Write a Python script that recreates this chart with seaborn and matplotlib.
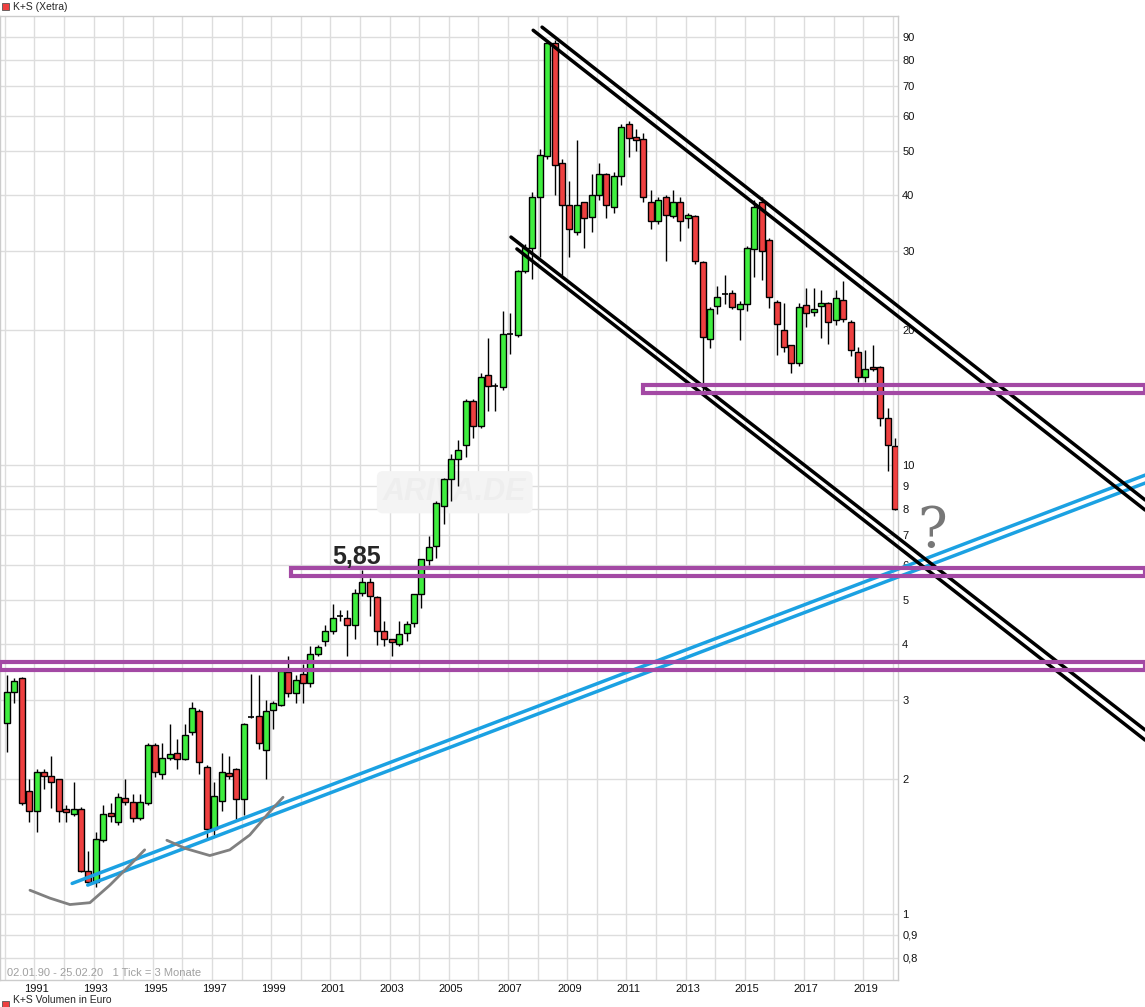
import numpy as np
import pandas as pd
import matplotlib
matplotlib.use("Agg")
import matplotlib.pyplot as plt
import seaborn as sns
from matplotlib.patches import Rectangle

# quarterly candles, 1990 Q1 .. 2020 Q1
opens = [2.67, 3.12, 3.35, 1.88, 1.70, 2.07, 2.03, 2.00, 1.71, 1.67, 1.71, 1.25, 1.18, 1.46, 1.68, 1.60,
         1.81, 1.78, 1.64, 1.77, 2.38, 2.05, 2.23, 2.28, 2.22, 2.54, 2.83, 2.13, 1.55, 1.79, 2.06, 2.10,
         1.80, 2.75, 2.76, 2.32, 2.85, 2.92, 3.46, 3.10, 3.42, 3.27, 3.80, 4.05, 4.27, 4.60, 4.56, 4.40,
         5.18, 5.48, 5.08, 4.27, 4.10, 4.00, 4.22, 4.45, 5.15, 6.15, 6.60, 8.10, 9.30, 10.3, 11.1, 13.9,
         12.2, 15.9, 15.0, 14.9, 19.6, 19.5, 27.0, 30.5, 39.5, 48.8, 87.0, 47.0, 38.0, 33.0, 38.5, 35.7,
         40.0, 44.5, 37.5, 44.0, 57.5, 53.7, 53.2, 38.5, 35.0, 39.5, 35.8, 38.5, 35.5, 35.8, 28.3, 19.1,
         22.6, 24.0, 24.2, 22.3, 22.9, 30.3, 38.5, 31.8, 23.1, 20.0, 18.5, 16.9, 22.7, 21.9, 22.6, 23.0,
         21.0, 23.3, 20.8, 17.9, 15.7, 16.5, 16.5, 12.7, 11.05]
highs = [3.40, 3.35, 3.38, 2.00, 2.10, 2.10, 2.25, 2.00, 1.75, 1.97, 1.73, 1.38, 1.52, 1.75, 1.77, 1.86,
         2.00, 1.85, 1.85, 2.40, 2.40, 2.40, 2.65, 2.45, 2.65, 2.97, 2.86, 2.15, 1.97, 2.28, 2.25, 2.12,
         2.67, 3.43, 3.40, 3.00, 2.98, 3.50, 3.75, 3.40, 3.60, 3.95, 3.97, 4.40, 4.90, 4.75, 4.75, 5.30,
         5.85, 5.60, 5.10, 4.50, 4.10, 4.50, 4.50, 5.15, 6.17, 6.95, 8.30, 9.35, 10.6, 11.4, 14.0, 14.0,
         16.0, 19.2, 15.2, 22.0, 21.8, 27.2, 31.0, 40.5, 50.5, 88.0, 88.5, 48.0, 43.0, 53.0, 38.6, 44.5,
         47.0, 44.8, 45.0, 57.5, 58.5, 56.0, 55.0, 41.0, 39.5, 40.0, 41.0, 39.5, 36.5, 36.0, 28.5, 22.5,
         25.0, 26.5, 24.5, 23.2, 30.8, 39.0, 39.5, 32.0, 23.3, 23.0, 18.5, 23.0, 24.8, 24.8, 24.6, 23.1,
         24.5, 25.7, 21.0, 18.3, 18.0, 18.5, 16.6, 13.4, 11.5]
lows = [2.30, 2.95, 1.75, 1.60, 1.52, 1.90, 1.72, 1.60, 1.60, 1.65, 1.24, 1.16, 1.15, 1.45, 1.60, 1.58,
        1.75, 1.60, 1.62, 1.75, 2.02, 2.00, 2.20, 2.10, 2.20, 2.50, 2.05, 1.48, 1.50, 1.70, 2.00, 1.63,
        1.66, 2.74, 2.33, 2.00, 2.58, 2.90, 3.05, 2.95, 2.95, 3.20, 3.75, 3.95, 4.20, 4.50, 3.75, 4.10,
        5.10, 4.60, 3.97, 3.95, 3.75, 3.95, 4.05, 4.35, 4.80, 6.00, 6.20, 7.40, 8.30, 9.00, 10.4, 11.5,
        12.1, 13.2, 13.2, 14.7, 17.7, 19.3, 26.8, 26.0, 29.0, 48.0, 40.0, 26.5, 29.0, 32.5, 30.5, 33.0,
        39.0, 35.5, 36.5, 42.0, 48.5, 50.0, 38.5, 33.5, 34.5, 28.5, 35.5, 31.5, 33.7, 28.0, 14.5, 18.2,
        21.7, 22.8, 22.3, 19.0, 22.0, 26.3, 25.8, 22.4, 17.6, 17.9, 16.0, 16.6, 20.3, 21.5, 19.2, 18.6,
        20.5, 20.8, 17.5, 15.3, 15.3, 16.2, 12.2, 9.7, 7.95]
closes = [3.12, 3.30, 1.77, 1.70, 2.07, 2.03, 1.97, 1.70, 1.69, 1.71, 1.25, 1.18, 1.47, 1.67, 1.65, 1.82,
          1.78, 1.64, 1.78, 2.38, 2.07, 2.23, 2.27, 2.22, 2.50, 2.87, 2.18, 1.55, 1.83, 2.07, 2.03, 1.80,
          2.65, 2.76, 2.41, 2.83, 2.95, 3.48, 3.10, 3.32, 3.27, 3.80, 3.93, 4.27, 4.56, 4.62, 4.40, 5.18,
          5.48, 5.10, 4.27, 4.10, 4.03, 4.20, 4.42, 5.15, 6.17, 6.58, 8.25, 9.30, 10.3, 10.8, 13.9, 12.2,
          15.7, 15.0, 15.05, 19.6, 19.7, 27.0, 30.5, 39.5, 49.0, 87.0, 46.5, 38.0, 33.5, 38.0, 35.5, 40.0,
          44.5, 38.0, 44.0, 56.5, 53.5, 53.0, 39.5, 35.0, 39.0, 36.0, 38.5, 35.0, 36.0, 28.5, 19.3, 22.3,
          23.7, 24.1, 22.5, 22.9, 30.5, 37.5, 30.0, 23.7, 20.6, 18.3, 16.9, 22.5, 21.8, 22.3, 23.0, 20.8,
          23.5, 21.2, 18.0, 15.7, 16.4, 16.4, 12.75, 11.1, 8.0]

years = list(range(1991, 2021, 2))
price_ticks = [0.8, 0.9, 1, 2, 3, 4, 5, 6, 7, 8, 9, 10, 20, 30, 40, 50, 60, 70, 80, 90]
price_labels = ["0,8", "0,9", "1", "2", "3", "4", "5", "6", "7", "8", "9", "10",
                "20", "30", "40", "50", "60", "70", "80", "90"]

# drawn annotations, (quarter index, price)
blue_lines = [((8.8, 1.17), (153.8, 9.5)), ((10.9, 1.16), (153.8, 9.12))]
black_lines = [((72.3, 94.5), (153.8, 8.36)), ((71.1, 93.0), (153.8, 7.94)),
               ((68.1, 32.2), (153.8, 2.57)), ((68.9, 30.3), (153.8, 2.44))]
zones = [(85.9, 14.5, 15.1), (38.4, 5.66, 5.90), (-0.95, 3.49, 3.64)]
swoosh1 = [(3.1, 1.13), (5.8, 1.085), (8.5, 1.05), (11.2, 1.06), (13.9, 1.16), (16.6, 1.285), (18.6, 1.39)]
swoosh2 = [(21.6, 1.46), (24.1, 1.40), (27.4, 1.35), (30.1, 1.39), (32.8, 1.50), (35.5, 1.69), (37.3, 1.82)]

df = pd.DataFrame({"open": opens, "high": highs, "low": lows, "close": closes})
df["q"] = np.arange(len(df))

sns.set_style("white")
plt.rcParams["font.family"] = ["Liberation Sans", "DejaVu Sans"]

fig = plt.figure(figsize=(11.45, 10.07), dpi=100)
ax = fig.add_axes([0, 0.0268, 898 / 1145, 0.984 - 0.0268])
ax.set_yscale("log")
ax.set_xlim(-0.95, 120.4)
ax.set_ylim(0.713, 100)

# grid
for q in range(0, 121, 4):
    ax.axvline(q - 0.3, color="#dddddd", lw=1, zorder=0)
for p in price_ticks:
    ax.axhline(p, color="#dddddd", lw=1, zorder=0)

ax.text(60.5, 8.7, "ARIVA.DE", fontsize=22, fontweight="bold", style="italic", color="#eeeeee",
        ha="center", va="center", zorder=0.5,
        bbox=dict(boxstyle="round,pad=0.2", fc="#f4f4f4", ec="none"))

# candles
w = 0.8
for r in df.itertuples():
    up = r.close >= r.open
    col = "#3fee3f" if up else "#ee4040"
    ax.vlines(r.q, r.low, r.high, color="black", lw=1, zorder=2)
    lo, hi = min(r.open, r.close), max(r.open, r.close)
    if hi / lo < 1.006:
        ax.hlines(r.open, r.q - w / 2, r.q + w / 2, color="black", lw=1.2, zorder=3)
    else:
        ax.add_patch(Rectangle((r.q - w / 2, lo), w, hi - lo, fc=col, ec="black", lw=1, zorder=3))

# annotations
for (x0, y0), (x1, y1) in blue_lines:
    sns.lineplot(x=[x0, x1], y=[y0, y1], ax=ax, color="#1ba1e2", lw=2.5, clip_on=False, zorder=4)
for (x0, y0), (x1, y1) in black_lines:
    sns.lineplot(x=[x0, x1], y=[y0, y1], ax=ax, color="black", lw=2.5, clip_on=False, zorder=4)
for x0, y0, y1 in zones:
    ax.add_patch(Rectangle((x0, y0), 153.8 - x0, y1 - y0, fc="none", ec="#a349a4", lw=3,
                           clip_on=False, zorder=4))
for curve in (swoosh1, swoosh2):
    xs, ys = zip(*curve)
    ax.plot(xs, ys, color="#808080", lw=2, solid_capstyle="round", zorder=4)

ax.text(47.2, 6.25, "5,85", fontsize=18, fontweight="bold", ha="center", va="center", zorder=5)
ax.text(125, 7.1, "?", fontsize=40, family="DejaVu Serif", color="#777777", ha="center",
        va="center", clip_on=False, zorder=5)
ax.text(0.0, 0.72, "02.01.90 - 25.02.20   1 Tick = 3 Monate", fontsize=8, color="#a0a0a0",
        ha="left", va="bottom", zorder=5)

# axes
ax.yaxis.tick_right()
ax.set_yticks(price_ticks)
ax.set_yticklabels(price_labels)
ax.yaxis.set_minor_locator(matplotlib.ticker.NullLocator())
ax.set_xticks([4 * (y - 1990) for y in years])
ax.set_xticklabels([str(y) for y in years])
ax.tick_params(axis="both", labelsize=8, length=0, pad=3, colors="#111111")
for s in ax.spines.values():
    s.set_color("#cccccc")
    s.set_linewidth(1)

fig.patches.append(Rectangle((2 / 1145, 1 - 10 / 1007), 7 / 1145, 7 / 1007, fc="#ee4040", ec="#555555",
                             lw=0.6, transform=fig.transFigure))
fig.text(13 / 1145, 1 - 7 / 1007, "K+S (Xetra)", fontsize=7.5, va="center")
fig.patches.append(Rectangle((2 / 1145, 1 - 1007 / 1007), 7 / 1145, 6 / 1007, fc="#ee4040", ec="#555555",
                             lw=0.6, transform=fig.transFigure))
fig.text(13 / 1145, 1 - 1005 / 1007, "K+S Volumen in Euro", fontsize=7.5, va="bottom")

fig.savefig("out.png", dpi=100)
